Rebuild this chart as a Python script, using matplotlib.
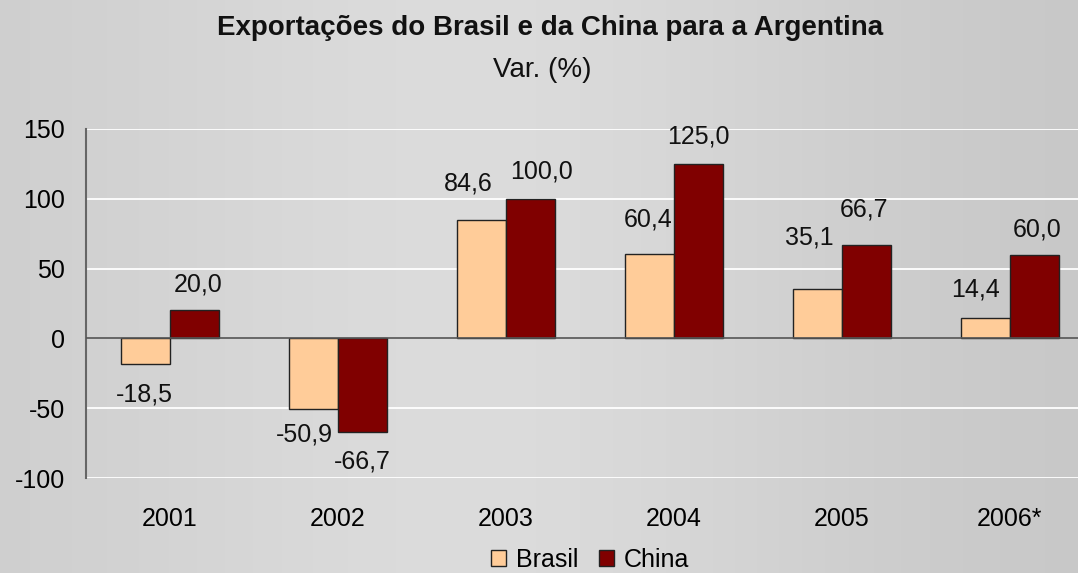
import numpy as np
import matplotlib
matplotlib.use("Agg")
import matplotlib.pyplot as plt
from matplotlib import font_manager
from matplotlib.patches import Patch

names = {f.name for f in font_manager.fontManager.ttflist}
FONT = "Liberation Sans Narrow" if "Liberation Sans Narrow" in names else "Liberation Sans"
plt.rcParams["font.family"] = [FONT, "DejaVu Sans"]

categories = ["2001", "2002", "2003", "2004", "2005", "2006*"]
brasil = [-18.5, -50.9, 84.6, 60.4, 35.1, 14.4]
china = [20.0, -66.7, 100.0, 125.0, 66.7, 60.0]
yticks = [-100, -50, 0, 50, 100, 150]

# label offsets in pixels (dx, dy up) relative to bar end
brasil_off = [(-1, -30), (-9, -25), (-13, 37), (-2, 35), (-8, 52), (-10, 29)]
china_off = [(4, 26), (0, -30), (11, 27), (0, 27), (-2, 36), (3, 25)]

W, H = 1078, 573
fig = plt.figure(figsize=(W / 100, H / 100), dpi=100)

# background gradient
bg = fig.add_axes([0, 0, 1, 1], zorder=-10)
xs = np.linspace(0, 1, 400)
base = 0.80 + 0.07 * np.exp(-((xs - 0.45) / 0.35) ** 2) - 0.02 * xs
grad = np.tile(base, (50, 1))
bg.imshow(np.dstack([grad, grad, grad]), aspect="auto", extent=[0, 1, 0, 1])
bg.set_axis_off()

ax = fig.add_axes([86 / W, 95 / H, 1 - 86 / W, 349 / H])
ax.set_facecolor("none")

x = np.arange(len(categories))
w = 0.29
ax.bar(x - w / 2, brasil, w, color="#FFCC99", edgecolor="#222222", linewidth=1.0, zorder=3)
ax.bar(x + w / 2, china, w, color="#800000", edgecolor="#222222", linewidth=1.0, zorder=3)

def fmt(v):
    return f"{v:.1f}".replace(".", ",")

LS = 18
for xi, v, off in zip(x - w / 2, brasil, brasil_off):
    ax.annotate(fmt(v), (xi, v), xytext=off, textcoords="offset pixels",
                ha="center", va="center", fontsize=LS, color="#111111")
for xi, v, off in zip(x + w / 2, china, china_off):
    ax.annotate(fmt(v), (xi, v), xytext=off, textcoords="offset pixels",
                ha="center", va="center", fontsize=LS, color="#111111")

ax.set_xlim(-0.5, 5.5 - 16 / 168)
ax.set_ylim(-100, 150)
ax.set_yticks(yticks)
ax.set_yticklabels([str(t) for t in yticks], fontsize=LS)
ax.set_xticks(x)
ax.set_xticklabels(categories, fontsize=LS)
ax.tick_params(axis="y", length=0, pad=15)
ax.tick_params(axis="x", length=0, pad=21)
for t in yticks:
    if t != 0:
        ax.axhline(t, color="white", linewidth=1.3, zorder=1)
ax.axhline(0, color="#555555", linewidth=1.2, zorder=4)
for s in ["top", "right", "bottom"]:
    ax.spines[s].set_visible(False)
ax.spines["left"].set_color("#666666")
ax.spines["left"].set_linewidth(1.5)

fig.text(550 / W, 1 - 28 / H, "Exportações do Brasil e da China para a Argentina",
         ha="center", va="center", fontsize=20, fontweight="bold", color="#111111")
fig.text(542 / W, 1 - 70 / H, "Var. (%)", ha="center", va="center", fontsize=20, color="#111111")

handles = [Patch(facecolor="#FFCC99", edgecolor="#222222", label="Brasil"),
           Patch(facecolor="#800000", edgecolor="#222222", label="China")]
fig.legend(handles=handles, loc="center", bbox_to_anchor=(590 / W, 1 - 560 / H), ncol=2,
           frameon=False, fontsize=LS, handlelength=0.6, handleheight=0.6,
           handletextpad=0.4, columnspacing=0.8, borderpad=0, borderaxespad=0)

fig.savefig("out.png", dpi=100)
